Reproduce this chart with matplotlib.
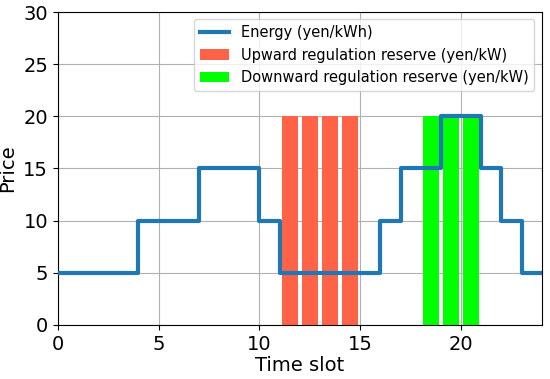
import matplotlib
matplotlib.use("Agg")
import matplotlib.pyplot as plt
import numpy as np

# hourly energy price, one value per slot (0..23)
energy_price = [5, 5, 5, 5, 10, 10, 10, 15, 15, 15, 10, 5,
                5, 5, 5, 5, 10, 15, 15, 20, 20, 15, 10, 5]
up_slots = [11, 12, 13, 14]
up_price = [20, 20, 20, 20]
down_slots = [18, 19, 20]
down_price = [20, 20, 20]

fig, ax = plt.subplots(figsize=(5.5, 3.79), dpi=100)

slots = np.arange(len(energy_price) + 1)
ax.bar(np.array(up_slots) + 0.5, up_price, width=0.8, color="tomato",
       label="Upward regulation reserve (yen/kW)", zorder=2)
ax.bar(np.array(down_slots) + 0.5, down_price, width=0.8, color="lime",
       label="Downward regulation reserve (yen/kW)", zorder=2)
ax.step(slots, energy_price + [energy_price[-1]], where="post", linewidth=3,
        color="tab:blue", label="Energy (yen/kWh)", zorder=3)

ax.set_xlim(0, 24)
ax.set_ylim(0, 30)
ax.set_xticks([0, 5, 10, 15, 20])
ax.set_xlabel("Time slot", fontsize=14, labelpad=2)
ax.set_ylabel("Price", fontsize=14, labelpad=4)
ax.tick_params(labelsize=14)
ax.grid(True, zorder=0)
ax.set_axisbelow(True)

ax.legend(loc="upper right", fontsize=10.5)

plt.subplots_adjust(left=0.105, right=0.985, top=0.968, bottom=0.143)
plt.savefig("out.png")
